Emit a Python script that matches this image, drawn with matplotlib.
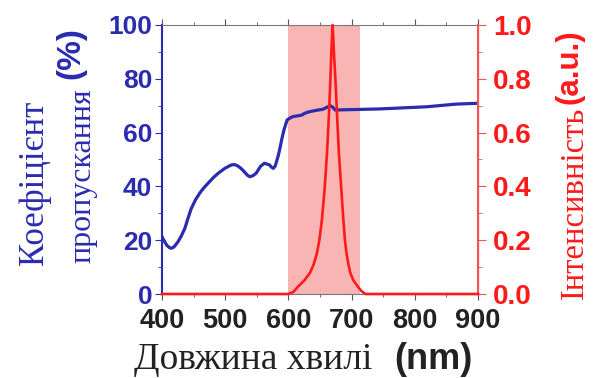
import matplotlib
matplotlib.use("Agg")
import matplotlib.pyplot as plt
from matplotlib.ticker import MultipleLocator

# пропускання (%)
wl_T = [400, 404, 408, 412, 415, 419, 425, 430, 436, 441, 446, 453, 460, 466, 473,
        481, 489, 500, 510, 515, 520, 525, 530, 535, 539, 544, 549, 556, 562, 566,
        570, 573, 576, 579, 581, 584, 586, 590, 593, 598, 603, 608, 614, 621, 626,
        634, 645, 655, 666, 670, 674, 692, 745, 819, 866, 900]
T = [21.3, 19.5, 18, 17.2, 17, 17.5, 19.3, 21.3, 24.3, 28, 31.6, 35, 37.6, 39.4, 41.2,
     43.2, 44.9, 46.8, 48, 48.1, 47.6, 46.7, 45.5, 44.2, 43.6, 44, 44.9, 47.5, 48.6, 48.3,
     48, 47.2, 46.7, 47.5, 49, 51.5, 53.5, 58, 61, 64.7, 65.5, 66, 66.2, 66.5, 67.2,
     67.8, 68.3, 68.7, 70, 69.5, 68.4, 68.5, 68.8, 69.6, 70.6, 70.9]

# інтенсивність (a.u.)
wl_I = [400, 600, 608, 615, 625, 634, 640, 645, 649, 653, 657, 661, 664, 666, 668, 670,
        672, 675, 677.5, 680, 684, 687, 689.5, 692, 695, 698, 703, 710, 716, 722, 900]
I = [0, 0, 0.008, 0.027, 0.05, 0.078, 0.11, 0.15, 0.2, 0.275, 0.38, 0.52, 0.66, 0.77, 0.9, 1.0,
     0.9, 0.77, 0.64, 0.52, 0.38, 0.275, 0.2, 0.15, 0.11, 0.078, 0.05, 0.027, 0.01, 0, 0]

band = (600, 714)

blue = "#2b2bb0"
red = "#ff1a1a"
sans = "Liberation Sans"
serif = "Liberation Serif"

fig = plt.figure(figsize=(5.94, 3.78), dpi=100)
ax = fig.add_axes([0.2727, 0.2222, 0.532, 0.7117])
ax2 = ax.twinx()

ax.axvspan(band[0], band[1], color="#f9b4b4", lw=0, zorder=0)
ax.plot(wl_T, T, color=blue, lw=2.3, solid_joinstyle="round", zorder=3)
ax2.plot(wl_I, I, color=red, lw=1.9, clip_on=False, zorder=3)

ax.set_xlim(400, 900)
ax.set_ylim(0, 100)
ax2.set_ylim(0, 1.0)

ax.xaxis.set_major_locator(MultipleLocator(100))
ax.xaxis.set_minor_locator(MultipleLocator(50))
ax.yaxis.set_major_locator(MultipleLocator(20))
ax.yaxis.set_minor_locator(MultipleLocator(10))
ax2.yaxis.set_major_locator(MultipleLocator(0.2))
ax2.yaxis.set_minor_locator(MultipleLocator(0.1))
ax2.set_yticklabels([f"{v:.1f}" for v in ax2.get_yticks()])

ax.spines["left"].set_color(blue)
ax.spines["left"].set_linewidth(1.5)
ax2.spines["right"].set_color("#ff5050")
ax2.spines["right"].set_linewidth(1.5)
ax2.spines["left"].set_visible(False)
for s in ["top", "bottom"]:
    ax.spines[s].set_color("#777777")
    ax2.spines[s].set_visible(False)

ax.tick_params(axis="x", which="both", direction="out", color="#555555",
               top=True, labelsize=19.5, pad=6)
ax.tick_params(axis="x", which="major", length=4)
ax.tick_params(axis="x", which="minor", length=2)
ax.tick_params(axis="y", which="both", color=blue, labelcolor=blue, labelsize=19, pad=2)
ax.tick_params(axis="y", which="major", length=5)
ax.tick_params(axis="y", which="minor", length=3)
ax2.tick_params(axis="y", which="both", color="#ff5050", labelcolor=red, labelsize=20, pad=5)
ax2.tick_params(axis="y", which="major", length=6)
ax2.tick_params(axis="y", which="minor", length=3)

for lab in ax.get_xticklabels():
    lab.set_fontfamily(sans)
    lab.set_fontweight("bold")
    lab.set_color("#222222")
for lab in ax.get_yticklabels() + ax2.get_yticklabels():
    lab.set_fontfamily(sans)
    lab.set_fontweight("bold")

W, H = 594, 378


def put(x, y, s, fam, weight, color, size, rot=0):
    fig.text(x / W, 1 - y / H, s, family=fam, weight=weight, color=color,
             fontsize=size, rotation=rot, rotation_mode="anchor",
             ha="center", va="baseline")


# підписи осей
put(43, 183, "Коефіцієнт", serif, "normal", blue, 25, 90)
put(90, 176, "пропускання", serif, "normal", blue, 23, 90)
put(79, 53, "(%)", sans, "bold", blue, 24, 90)

put(583, 203, "Інтенсивність", serif, "normal", red, 23.5, 90)
put(577, 67, "(a.u.)", sans, "bold", red, 22.5, 90)

put(253, 369, "Довжина хвилі", serif, "normal", "#222222", 27)
put(433, 369, "(nm)", sans, "bold", "#222222", 26)

fig.savefig("out.png", dpi=100)
